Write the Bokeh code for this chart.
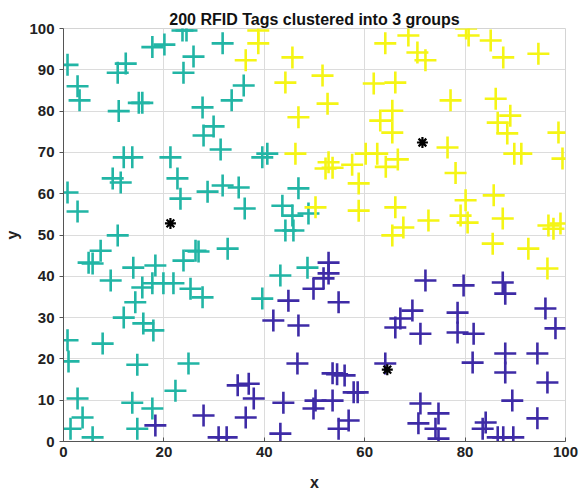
from bokeh.plotting import figure
from bokeh.models import ColumnDataSource, Range1d, FixedTicker
from bokeh.embed import file_html
from bokeh.resources import INLINE

# Cluster 1 (teal)
teal_x = [0.8, 2.8, 3.2, 10.8, 12.4, 11, 15, 15.7, 17.7, 20.1, 23.7, 24.5, 25.9, 23.9, 31.7,
          27.7, 29.9, 27.9, 31.3, 12, 13.7, 21.3, 35.9, 33.5, 40.6, 39.6,
          0.8, 2.8, 9.8, 11.4, 10.8, 7.4, 5, 5.8, 9.4, 13.9, 18.3, 15.7, 17.7, 19.9, 21.9,
          25.3, 27.7, 14.3, 22.7, 23.3, 28.7, 31.7, 23.9, 26.3, 26.9, 32.7,
          34.9, 36.1, 46.8, 43.6, 45.6, 44.2, 45.8, 48.8, 43.2, 48.6, 39.6,
          12, 15.9, 17.9, 0.8, 7.8, 1, 14.7, 24.9, 22.3, 2.8, 13.7, 17.7, 3.8, 1.4, 14.7, 5.8]
teal_y = [91.2, 86, 82.6, 89.3, 91.5, 80, 82, 82, 95.5, 96.1, 99.5, 99.5, 93.2, 89.3, 96.4,
          80.9, 76.3, 74.1, 70.7, 68.8, 68.8, 68.8, 86.2, 82.6, 69.7, 68.8,
          60.3, 55.7, 63.7, 62.7, 49.9, 46.2, 43.3, 43.1, 39, 42.1, 42.6, 37.3, 38.3, 38.3, 38.3,
          37, 34.9, 33.7, 63.7, 58.8, 60.5, 62, 43.8, 46.2, 46, 46.7,
          61.5, 56.4, 61.3, 57.1, 54.7, 51.1, 51.1, 55.2, 40.2, 42.1, 34.6,
          30, 28.6, 26.9, 24.5, 23.7, 19.4, 18.6, 18.9, 12.3, 10.4, 9.4, 8, 5.8, 3.1, 3.1, 1]

# Cluster 2 (yellow)
yellow_x = [38.8, 38.8, 36.3, 45.6, 44.2, 51.6, 52.6, 46.8, 46.2, 64.1, 61.8, 66.1, 65.5, 63.1,
            65.5, 60.2, 62.5, 52.8, 57.5, 66.6,
            68.7, 70.5, 72.1, 80.2, 80.7, 85.1, 87.6, 94.6, 77.1, 86.1, 89, 86.5, 88.4, 98.6,
            76.5, 89.8, 91.2, 99.4,
            50.2, 58.8, 58.8, 52.2, 53.6, 64.2, 65.5, 66.1, 67.7,
            78.1, 80.1, 85.7, 79.1, 80.5, 87.5, 72.7, 85.5, 92.6, 96.4, 96.6, 97.6, 99]
yellow_y = [99.5, 96.4, 92.3, 93, 86.9, 88.6, 81.8, 78.5, 69.7, 96.4, 86.7, 86.9, 80.1, 77.7,
            74.8, 69.7, 69.7, 67.6, 67, 68.3,
            98.3, 94.2, 92.3, 100, 98.3, 97.1, 93, 93.9, 82.6, 83, 78.9, 77.2, 74.6, 74.8,
            71.2, 69.7, 69.7, 68.5,
            56.7, 55.9, 62.5, 66.1, 66.3, 66.5, 49.9, 56.7, 51.8,
            65, 58.4, 59.6, 54.7, 53, 54, 53.5, 47.9, 46.7, 41.9, 52.3, 51.5, 52.8]

# Cluster 3 (purple)
purple_x = [52.8, 52.8, 51.8, 49.8, 44.8, 54.8, 41.8, 46.8, 46.6, 53.6, 54.5, 56, 57.8, 58.6,
            50.2, 49.8, 53.6, 56.8, 54.8, 34.7, 36.9, 37.9, 36.3, 43.8, 43.2, 64.1, 66.1,
            18.3, 27.9, 30.9, 32.5,
            72.1, 79.7, 87.5, 88,
            69.5, 67.1, 71.1, 78.5, 78.5, 81.7, 96, 98, 88, 88, 94.4, 96.4, 81.5, 89.4, 94.4,
            71.1, 74.7, 70.7, 74.1, 74.7, 84.1, 83.5, 86.5, 87.6, 89.6]
purple_y = [43.3, 40.7, 39.5, 37, 34.1, 33.7, 29.3, 28.1, 18.9, 16.5, 16.3, 16, 11.9, 11.9,
            9.9, 8, 9.9, 5.1, 3.1, 13.6, 14, 10.4, 5.8, 9.4, 1.9, 18.9, 27.6,
            3.9, 6.3, 1, 1,
            39, 37.8, 38.5, 35.8,
            31.7, 29.8, 26.1, 31.2, 26.4, 26.1, 32.2, 27.4, 21.3, 16.7, 21.3, 14.3, 19.1, 9.9, 5.6,
            9.2, 6.8, 4.4, 3.1, 0.7, 4.6, 3.1, 1, 1, 1]

# Centroids
cent_x = [21.3, 71.5, 64.5]
cent_y = [52.8, 72.4, 17.4]

x_ticks = [0, 20, 40, 60, 80, 100]
y_ticks = [0, 10, 20, 30, 40, 50, 60, 70, 80, 90, 100]

FONT = "Liberation Sans"

p = figure(width=585, height=493, output_backend="svg", toolbar_location=None,
           x_range=Range1d(0, 100), y_range=Range1d(0, 100),
           min_border_left=63, min_border_right=20, min_border_top=28, min_border_bottom=52,
           title="200 RFID Tags clustered into 3 groups")

p.title.align = "center"
p.title.text_font = FONT
p.title.text_font_size = "16px"
p.title.text_font_style = "bold"
p.title.text_color = "#111111"
p.title.standoff = 2

p.background_fill_color = "white"
p.border_fill_color = "white"
p.outline_line_color = "#D4D4D4"
p.outline_line_width = 1

p.xaxis.ticker = FixedTicker(ticks=x_ticks)
p.yaxis.ticker = FixedTicker(ticks=y_ticks)
p.xgrid.ticker = FixedTicker(ticks=x_ticks)
p.ygrid.ticker = FixedTicker(ticks=y_ticks)
p.grid.grid_line_color = "#DCDCDC"
p.grid.grid_line_width = 1

for ax in (p.xaxis, p.yaxis):
    ax.axis_line_color = "#555555"
    ax.major_tick_line_color = "#555555"
    ax.minor_tick_line_color = None
    ax.major_label_text_font = FONT
    ax.major_label_text_font_size = "15px"
    ax.major_label_text_font_style = "bold"
    ax.major_label_text_color = "#222222"
    ax.axis_label_text_font = FONT
    ax.axis_label_text_font_size = "16px"
    ax.axis_label_text_font_style = "bold"
    ax.axis_label_text_color = "#222222"

p.xaxis.major_tick_in = 4
p.xaxis.major_tick_out = 0
p.yaxis.major_tick_in = 0
p.yaxis.major_tick_out = 4
p.xaxis.axis_label = "x"
p.yaxis.axis_label = "y"
p.xaxis.axis_label_standoff = 14
p.yaxis.axis_label_standoff = 5

src_t = ColumnDataSource(dict(x=teal_x, y=teal_y))
src_y = ColumnDataSource(dict(x=yellow_x, y=yellow_y))
src_p = ColumnDataSource(dict(x=purple_x, y=purple_y))
src_c = ColumnDataSource(dict(x=cent_x, y=cent_y))

p.scatter("x", "y", source=src_t, marker="cross", size=22, line_width=2.6, line_color="#22B5A5")
p.scatter("x", "y", source=src_y, marker="cross", size=22, line_width=2.6, line_color="#F5F515")
p.scatter("x", "y", source=src_p, marker="cross", size=22, line_width=2.6, line_color="#3E2BA6")
p.scatter("x", "y", source=src_c, marker="asterisk", size=11, line_width=2.2, line_color="black")

open("out.html", "w").write(file_html(p, INLINE))
